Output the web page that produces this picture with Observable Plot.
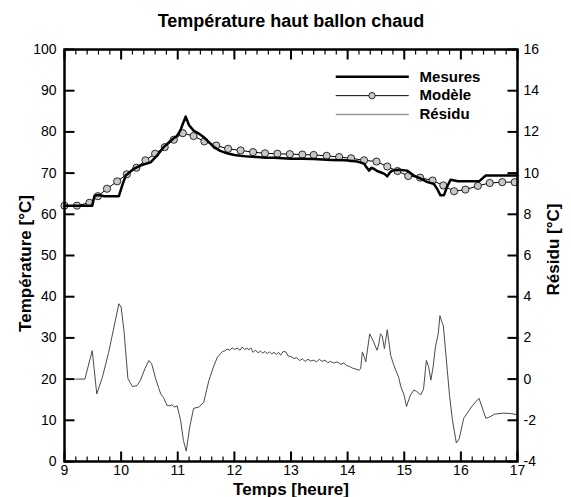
<!DOCTYPE html>
<html><head><meta charset="utf-8">
<script src="https://cdn.jsdelivr.net/npm/d3@7"></script>
<script src="https://cdn.jsdelivr.net/npm/@observablehq/plot@0.6"></script>
<style>body{margin:0;background:#fff} svg{display:block}</style>
</head><body><div id="chart"></div>
<script>
// ---- Data ----
const mesuresT = [9.0,9.49,9.53,9.6,9.7,9.96,10.02,10.08,10.22,10.35,10.52,10.65,10.75,10.87,10.99,11.05,11.08,11.14,11.2,11.28,11.37,11.46,11.55,11.64,11.75,11.87,12.0,12.11,12.25,12.4,12.55,12.7,12.85,13.0,13.2,13.4,13.7,13.95,14.17,14.29,14.33,14.38,14.42,14.47,14.52,14.58,14.65,14.7,14.75,14.79,14.9,15.05,15.17,15.3,15.41,15.52,15.58,15.64,15.7,15.76,15.82,15.95,16.05,16.32,16.44,16.6,17.0];
const mesuresV = [62.1,62.1,64.5,64.7,64.4,64.4,67.0,69.4,71.0,71.9,72.6,74.5,76.3,77.8,79.1,80.5,81.6,83.7,81.6,80.3,79.6,78.7,77.5,76.3,75.4,74.8,74.4,74.2,74.0,73.9,73.7,73.7,73.6,73.5,73.5,73.4,73.2,73.1,72.8,72.3,71.5,70.6,71.3,71.0,70.5,70.2,69.8,69.2,70.2,70.6,70.8,70.6,69.4,68.6,67.8,67.4,66.2,64.6,64.6,66.8,68.4,68.0,68.0,68.0,69.4,69.4,69.4];

const modeleT = [9.0,9.22,9.44,9.59,9.75,9.93,10.1,10.27,10.43,10.6,10.77,10.93,11.09,11.28,11.47,11.68,11.89,12.11,12.33,12.54,12.76,12.98,13.2,13.4,13.63,13.85,14.06,14.29,14.51,14.7,14.88,15.07,15.28,15.5,15.69,15.88,16.08,16.3,16.51,16.73,16.95];
const modeleV = [62.1,62.1,62.8,64.4,66.2,68.0,69.7,71.3,73.1,74.7,76.3,78.1,79.7,79.0,77.7,76.7,75.9,75.5,75.1,74.8,74.7,74.6,74.5,74.4,74.2,73.9,73.6,73.1,72.8,71.6,70.5,69.3,68.9,68.2,67.0,65.6,66.0,66.9,67.6,67.8,67.8];

const residuT = [9.2,9.36,9.49,9.57,9.67,9.78,9.96,10.0,10.05,10.12,10.2,10.28,10.34,10.42,10.49,10.54,10.61,10.66,10.7,10.75,10.81,10.86,10.9,10.94,10.99,11.05,11.1,11.15,11.21,11.28,11.37,11.46,11.55,11.64,11.7,11.79,11.84,11.87,11.92,11.96,12.0,12.05,12.1,12.14,12.18,12.22,12.26,12.29,12.33,12.37,12.42,12.46,12.5,12.54,12.58,12.62,12.66,12.7,12.74,12.78,12.82,12.86,12.91,12.95,13.0,13.05,13.1,13.15,13.2,13.25,13.3,13.35,13.4,13.45,13.5,13.55,13.6,13.65,13.7,13.75,13.82,13.88,13.93,13.98,14.03,14.08,14.13,14.2,14.23,14.26,14.29,14.32,14.39,14.46,14.52,14.55,14.58,14.61,14.65,14.7,14.76,14.8,14.85,14.9,14.94,15.0,15.04,15.08,15.11,15.17,15.22,15.29,15.34,15.39,15.43,15.47,15.51,15.55,15.6,15.63,15.66,15.69,15.76,15.8,15.85,15.92,15.97,16.05,16.1,16.2,16.32,16.44,16.5,16.6,16.76,16.9,17.0];
const residuV = [0.0,0.0,1.38,-0.72,0.1,1.3,3.66,3.5,2.36,0.02,-0.36,-0.32,-0.06,0.5,0.9,0.74,0.02,-0.4,-0.72,-0.9,-1.28,-1.3,-1.24,-1.36,-1.3,-2.0,-2.98,-3.5,-2.34,-1.42,-1.36,-1.12,-0.06,0.66,1.06,1.34,1.38,1.46,1.40,1.52,1.44,1.50,1.40,1.56,1.44,1.50,1.42,1.52,1.30,1.40,1.28,1.36,1.26,1.34,1.24,1.32,1.22,1.30,1.20,1.30,1.16,1.34,1.32,1.12,1.10,1.0,1.04,0.9,0.98,0.86,0.96,0.88,0.92,0.84,0.96,0.86,0.92,0.80,0.86,0.78,0.83,0.72,0.78,0.66,0.62,0.54,0.50,0.43,0.5,1.32,1.1,0.83,2.2,1.8,1.4,1.7,2.2,2.1,1.48,2.4,1.16,0.8,0.43,0.1,-0.37,-0.8,-1.33,-1.0,-0.77,-0.53,-0.6,-0.77,-0.5,0.91,0.6,-0.05,0.6,1.56,2.2,3.08,2.8,2.6,0.43,-0.8,-1.97,-3.1,-2.9,-1.9,-1.7,-1.3,-0.93,-1.9,-1.85,-1.7,-1.65,-1.68,-1.73];

const hourTicks = [9,10,11,12,13,14,15,16,17];
const tempTicks = [0,10,20,30,40,50,60,70,80,90,100];
const residuTicks = [-4,-2,0,2,4,6,8,10,12,14,16];
const seriesNames = ["Mesures","Modèle","Résidu"];
const titleText = "Température haut ballon chaud";
const xLabel = "Temps [heure]";
const yLabel = "Température [°C]";
const y2Label = "Résidu [°C]";

// ---- Build tables ----
const mesures = mesuresT.map((t,i)=>({t, v: mesuresV[i]}));
const modele = modeleT.map((t,i)=>({t, v: modeleV[i]}));
const residu = residuT.map((t,i)=>({t, r: residuV[i]}));
const toT = r => (r + 4) * 5;   // residu axis [-4,16] -> temperature axis [0,100]
const minorHours = d3.range(9, 17.001, 0.2).filter(v => Math.abs(v - Math.round(v)) > 0.01);

// ---- Layout ----
const W = 571, H = 497, mL = 64, mR = 54, mT = 49, mB = 36;
const fw = W - mL - mR, fh = H - mT - mB;
const pxX = fw / 8, pxY = fh / 100;      // pixels per data unit
const majY = 10 / pxY, minY = 5 / pxY;   // tick lengths in data units
const majX = 10 / pxX;

// legend layout (data coords)
const legX1 = 13.79, legX2 = 15.08, legTx = 15.27, legMid = 14.43;
const legY = [93.4, 88.8, 84.2];

const plot = Plot.plot({
  width: W, height: H,
  marginLeft: mL, marginRight: mR, marginTop: mT, marginBottom: mB,
  style: {fontFamily: "'Liberation Sans', Arial, sans-serif", background: "#fff", color: "#000", overflow: "visible"},
  x: {domain: [9, 17]},
  y: {domain: [0, 100]},
  marks: [
    Plot.line(residu, {x: "t", y: d => toT(d.r), stroke: "#4a4a4a", strokeWidth: 1}),
    Plot.line(modele, {x: "t", y: "v", stroke: "#000", strokeWidth: 1}),
    Plot.dot(modele, {x: "t", y: "v", r: 3.6, fill: "#c8c8c8", stroke: "#000", strokeWidth: 0.8}),
    Plot.line(mesures, {x: "t", y: "v", stroke: "#000", strokeWidth: 2.5}),
    // axes labels
    Plot.axisX({ticks: hourTicks, tickSize: 0, tickPadding: 4, fontSize: 14, label: null, tickFormat: d => String(d)}),
    Plot.axisY({anchor: "left", ticks: tempTicks, tickSize: 0, tickPadding: 8, fontSize: 14, label: null, tickFormat: d => String(d)}),
    Plot.axisY({anchor: "right", ticks: residuTicks.map(toT), tickSize: 0, tickPadding: 6, fontSize: 14, label: null,
      tickFormat: d => String(Math.round(d / 5 - 4))}),
    Plot.frame({stroke: "#000", strokeWidth: 2.5}),
    // ticks (inward), drawn as links
    Plot.link(hourTicks, {x1: d => d, x2: d => d, y1: 0, y2: majY, stroke: "#000", strokeWidth: 2}),
    Plot.link(hourTicks, {x1: d => d, x2: d => d, y1: 100, y2: 100 - majY, stroke: "#000", strokeWidth: 2}),
    Plot.link(minorHours, {x1: d => d, x2: d => d, y1: 0, y2: minY, stroke: "#000", strokeWidth: 1.2}),
    Plot.link(minorHours, {x1: d => d, x2: d => d, y1: 100, y2: 100 - minY, stroke: "#000", strokeWidth: 1.2}),
    Plot.link(tempTicks, {y1: d => d, y2: d => d, x1: 9, x2: 9 + majX, stroke: "#000", strokeWidth: 2}),
    Plot.link(residuTicks, {y1: d => toT(d), y2: d => toT(d), x1: 17, x2: 17 - majX, stroke: "#000", strokeWidth: 2}),
    // legend
    Plot.link([0], {x1: legX1, x2: legX2, y1: legY[0], y2: legY[0], stroke: "#000", strokeWidth: 2.5}),
    Plot.link([0], {x1: legX1, x2: legX2, y1: legY[1], y2: legY[1], stroke: "#000", strokeWidth: 1}),
    Plot.dot([0], {x: legMid, y: legY[1], r: 3.2, fill: "#c8c8c8", stroke: "#000", strokeWidth: 0.8}),
    Plot.link([0], {x1: legX1, x2: legX2, y1: legY[2], y2: legY[2], stroke: "#999", strokeWidth: 1.5}),
    Plot.text(seriesNames, {x: legTx, y: (d, i) => legY[i], text: d => d, textAnchor: "start", fontSize: 15, fontWeight: "bold"}),
    // titles
    Plot.text([titleText], {frameAnchor: "top", dy: -35, text: d => d, fontSize: 18, fontWeight: "bold"}),
    Plot.text([xLabel], {frameAnchor: "bottom", dy: 33, text: d => d, fontSize: 17, fontWeight: "bold"}),
    Plot.text([yLabel], {frameAnchor: "left", dx: -39, dy: 8, rotate: -90, textAnchor: "middle", text: d => d, fontSize: 17, fontWeight: "bold"}),
    Plot.text([y2Label], {frameAnchor: "right", dx: 36, dy: -6, rotate: -90, textAnchor: "middle", text: d => d, fontSize: 17, fontWeight: "bold"})
  ]
});
document.getElementById("chart").appendChild(plot);
</script>
</body></html>
